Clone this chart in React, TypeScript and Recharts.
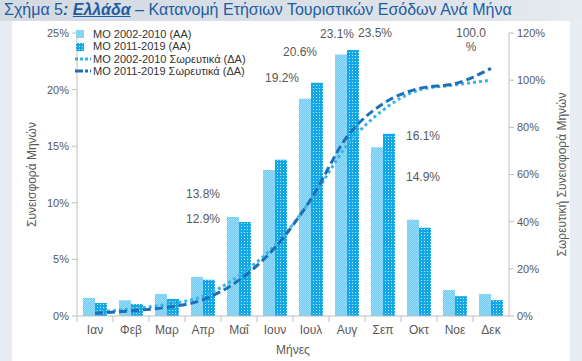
import React from 'react';
import {
  ComposedChart,
  Bar,
  Line,
  XAxis,
  YAxis,
  Legend,
  Label,
  LabelList,
} from 'recharts';

// months (x axis)
const months = ['Ιαν', 'Φεβ', 'Μαρ', 'Απρ', 'Μαΐ', 'Ιουν', 'Ιουλ', 'Αυγ', 'Σεπ', 'Οκτ', 'Νοε', 'Δεκ'];

// monthly share, % (left axis)
const avg0210 = [1.6, 1.4, 1.95, 3.45, 8.75, 12.9, 19.2, 23.1, 14.9, 8.5, 2.3, 1.95];
const avg1119 = [1.15, 1.05, 1.5, 3.2, 8.3, 13.8, 20.6, 23.5, 16.1, 7.8, 1.75, 1.4];

// cumulative share, % (right axis)
const cum0210 = [1.6, 3.0, 4.9, 8.4, 17.1, 30.0, 49.2, 72.4, 87.3, 95.8, 98.0, 100.0];
const cum1119 = [1.2, 2.2, 3.7, 6.9, 15.2, 29.0, 49.6, 76.0, 90.0, 96.5, 98.5, 105.0];

const leftTicks = [0, 5, 10, 15, 20, 25];
const rightTicks = [0, 20, 40, 60, 80, 100, 120];

const data = months.map((m, i) => ({
  month: m,
  a0210: avg0210[i],
  a1119: avg1119[i],
  c0210: cum0210[i],
  c1119: cum1119[i],
}));

const FONT = '"Liberation Sans", Arial, sans-serif';
const TEXT = '#595959';
const AXIS = '#bfbfbf';
const LIGHT_LINE = '#35b4e8';
const DARK_LINE = '#1f6fb8';

// where the value labels sit, relative to the top centre of their bar
const lightLabelPos: Record<number, [number, number]> = { 5: [-66, 49], 6: [-23, -21], 7: [-4, -21], 8: [46, 30] };
const darkLabelPos: Record<number, [number, number]> = { 5: [-78, 34], 6: [-17, -31], 7: [22, -17], 8: [34, 2] };

const barLabel = (pos: Record<number, [number, number]>) => (props: any) => {
  const { x, y, width, value, index } = props;
  const off = pos[index];
  if (!off) return null;
  return (
    <text
      x={x + width / 2 + off[0]}
      y={y + off[1]}
      textAnchor="middle"
      dominantBaseline="central"
      fontSize={12}
      fill={TEXT}
      fontFamily={FONT}
    >
      {Number(value).toFixed(1)}%
    </text>
  );
};

const totalLabel = (props: any) => {
  const { x, y, value, index } = props;
  if (index !== months.length - 1) return null;
  return (
    <text x={x - 20} y={y - 47} textAnchor="middle" fontSize={12} fill={TEXT} fontFamily={FONT}>
      <tspan x={x - 20} dy="0.35em">{Number(value).toFixed(1)}</tspan>
      <tspan x={x - 20} dy="14">%</tspan>
    </text>
  );
};

// month label plus a small tick on the category boundary
const MonthTick = (props: any) => {
  const { x, y, payload, width } = props;
  const half = width ? width / months.length / 2 : 18;
  return (
    <g>
      <line x1={x - half} x2={x - half} y1={y - 8} y2={y - 2} stroke={AXIS} />
      <text x={x} y={y + 1} dy="0.71em" textAnchor="middle" fontSize={12} fill={TEXT} fontFamily={FONT}>
        {payload.value}
      </text>
    </g>
  );
};

const legendItems = [
  { key: 'a0210', label: 'ΜΟ 2002-2010 (ΑΑ)', kind: 'box', fill: 'url(#patLight)' },
  { key: 'a1119', label: 'ΜΟ 2011-2019 (ΑΑ)', kind: 'box', fill: 'url(#patDark)' },
  { key: 'c0210', label: 'ΜΟ 2002-2010 Σωρευτικά (ΔΑ)', kind: 'dot', fill: LIGHT_LINE },
  { key: 'c1119', label: 'ΜΟ 2011-2019 Σωρευτικά (ΔΑ)', kind: 'dash', fill: DARK_LINE },
];

const renderLegend = () => (
  <div style={{ fontFamily: FONT, fontSize: 11, color: '#333', lineHeight: '12.4px' }}>
    {legendItems.map((it) => (
      <div key={it.key} style={{ display: 'flex', alignItems: 'center', height: 12.4 }}>
        <svg width={17} height={10} style={{ marginRight: 1 }}>
          {it.kind === 'box' && <rect x={1} y={1} width={8} height={8} fill={it.fill} />}
          {it.kind === 'dot' && (
            <line x1={0} x2={16} y1={5} y2={5} stroke={it.fill} strokeWidth={3} strokeDasharray="3 2" />
          )}
          {it.kind === 'dash' && (
            <line x1={0} x2={16} y1={5} y2={5} stroke={it.fill} strokeWidth={3} strokeDasharray="8 2 3 2" />
          )}
        </svg>
        <span>{it.label}</span>
      </div>
    ))}
  </div>
);

const axisTitle = (text: string, dx: number) => (props: any) => {
  const { viewBox } = props;
  const cx = viewBox.x + dx;
  const cy = viewBox.y + viewBox.height / 2;
  return (
    <text
      x={cx}
      y={cy}
      transform={`rotate(-90, ${cx}, ${cy})`}
      textAnchor="middle"
      dominantBaseline="central"
      fontSize={12}
      fill={TEXT}
      fontFamily={FONT}
    >
      {text}
    </text>
  );
};

const xTitle = (props: any) => {
  const { viewBox } = props;
  return (
    <text
      x={viewBox.x + viewBox.width / 2}
      y={350}
      textAnchor="middle"
      dominantBaseline="central"
      fontSize={12}
      fill={TEXT}
      fontFamily={FONT}
    >
      Μήνες
    </text>
  );
};

export default function App() {
  return (
    <div
      style={{
        position: 'absolute',
        left: 0,
        top: 0,
        width: 582,
        height: 361,
        overflow: 'hidden',
        background: '#e8edf3',
        fontFamily: FONT,
      }}
    >
      <div
        style={{
          position: 'absolute',
          left: 0,
          top: 0,
          width: 582,
          height: 21,
          background: 'linear-gradient(90deg, #d3dae2 0%, #dce2e8 70%, #e6ebf0 100%)',
        }}
      />
      <div
        style={{
          position: 'absolute',
          left: 4,
          top: 1,
          fontSize: 16,
          color: '#1f5ca3',
          whiteSpace: 'nowrap',
        }}
      >
        Σχήμα 5<b><i>: <u>Ελλάδα</u></i></b> – Κατανομή Ετήσιων Τουριστικών Εσόδων Ανά Μήνα
      </div>
      <div style={{ position: 'absolute', left: 12, top: 21, width: 558, height: 340, background: '#ffffff' }} />
      <div style={{ position: 'absolute', left: 0, top: 0 }}>
        <ComposedChart
          width={582}
          height={361}
          data={data}
          margin={{ top: 33, right: 13, bottom: 5, left: 17 }}
          barCategoryGap="16.7%"
          barGap={0}
        >
          <defs>
            <pattern id="patLight" width={2} height={2} patternUnits="userSpaceOnUse">
              <rect width={2} height={2} fill="#6fcbf1" />
              <rect x={0} y={0} width={1} height={1} fill="#9ddcf7" />
              <rect x={1} y={1} width={1} height={1} fill="#9ddcf7" />
            </pattern>
            <pattern id="patDark" width={3} height={3} patternUnits="userSpaceOnUse">
              <rect width={3} height={3} fill="#13a7e5" />
              <rect x={1} y={1} width={1} height={1} fill="#c4ecfb" />
            </pattern>
          </defs>
          <XAxis
            dataKey="month"
            height={40}
            axisLine={{ stroke: AXIS }}
            tickLine={false}
            tickSize={6}
            tickMargin={2}
            interval={0}
            tick={<MonthTick />}
          >
            <Label content={xTitle} />
          </XAxis>
          <YAxis
            yAxisId="left"
            width={60}
            domain={[0, 25]}
            ticks={leftTicks}
            tickFormatter={(v) => `${v}%`}
            axisLine={{ stroke: AXIS }}
            tickLine={{ stroke: AXIS }}
            tickSize={5}
            tickMargin={3}
            tick={{ fontSize: 11, fill: TEXT, fontFamily: FONT }}
          >
            <Label content={axisTitle('Συνεισφορά Μηνών', 15)} />
          </YAxis>
          <YAxis
            yAxisId="right"
            orientation="right"
            width={60}
            domain={[0, 120]}
            ticks={rightTicks}
            tickFormatter={(v) => `${v}%`}
            axisLine={{ stroke: AXIS }}
            tickLine={{ stroke: AXIS }}
            tickSize={5}
            tickMargin={3}
            tick={{ fontSize: 11, fill: TEXT, fontFamily: FONT }}
          >
            <Label content={axisTitle('Σωρευτική Συνεισφορά Μηνών', 53)} />
          </YAxis>
          <Legend
            content={renderLegend}
            layout="vertical"
            align="center"
            verticalAlign="middle"
            wrapperStyle={{ position: 'absolute', top: 28, left: 75, width: 'auto' }}
          />
          <Bar
            yAxisId="left"
            dataKey="a0210"
            name="ΜΟ 2002-2010 (ΑΑ)"
            fill="url(#patLight)"
            isAnimationActive={false}
          >
            <LabelList dataKey="a0210" content={barLabel(lightLabelPos)} />
          </Bar>
          <Bar
            yAxisId="left"
            dataKey="a1119"
            name="ΜΟ 2011-2019 (ΑΑ)"
            fill="url(#patDark)"
            isAnimationActive={false}
          >
            <LabelList dataKey="a1119" content={barLabel(darkLabelPos)} />
          </Bar>
          <Line
            yAxisId="right"
            type="monotone"
            dataKey="c0210"
            name="ΜΟ 2002-2010 Σωρευτικά (ΔΑ)"
            stroke={LIGHT_LINE}
            strokeWidth={3}
            strokeDasharray="3 3"
            dot={false}
            activeDot={false}
            isAnimationActive={false}
          >
            <LabelList dataKey="c0210" content={totalLabel} />
          </Line>
          <Line
            yAxisId="right"
            type="monotone"
            dataKey="c1119"
            name="ΜΟ 2011-2019 Σωρευτικά (ΔΑ)"
            stroke={DARK_LINE}
            strokeWidth={3}
            strokeDasharray="8 4"
            dot={false}
            activeDot={false}
            isAnimationActive={false}
          />
        </ComposedChart>
      </div>
    </div>
  );
}
